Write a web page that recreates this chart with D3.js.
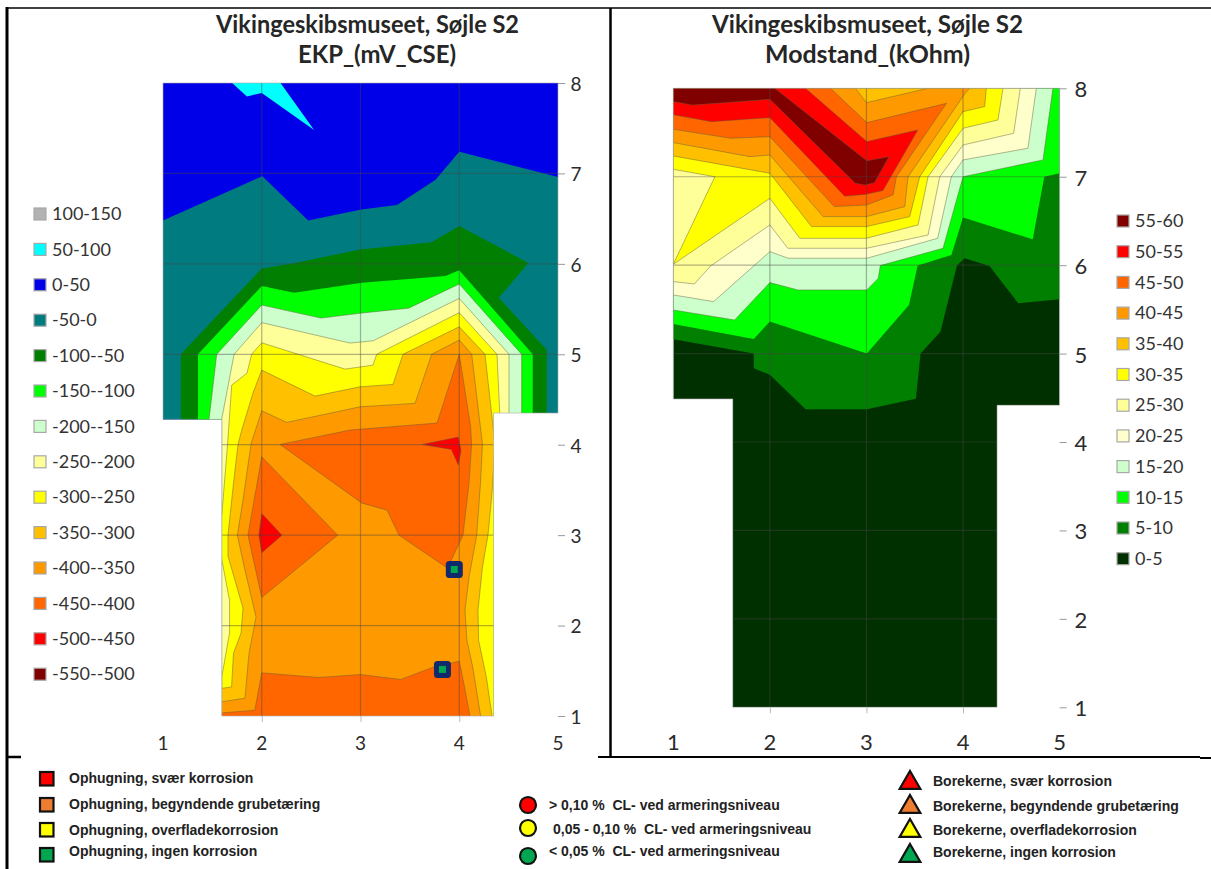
<!DOCTYPE html>
<html><head><meta charset="utf-8">
<script src="https://cdn.jsdelivr.net/npm/d3@7"></script>
<style>html,body{margin:0;background:#fff}svg{display:block}text{white-space:pre}</style></head>
<body><svg id="c" width="1211" height="869"></svg>
<script>
const titleTop="Vikingeskibsmuseet, Søjle S2";
const xTicks=[1,2,3,4,5], yTicks=[1,2,3,4,5,6,7,8];
const ekpShape=[[1,8],[5,8],[5,4.35],[4.347,4.35],[4.347,1],[1.597,1],[1.597,4.28],[1,4.28]];
const modShape=[[1,8],[5,8],[5,4.415],[4.353,4.415],[4.353,1],[1.615,1],[1.615,4.487],[1,4.487]];

// EKP (mV CSE): iso-regions, in chart units
const ekpRanges=["100-150","50-100","0-50","-50-0","-100--50","-150--100","-200--150","-250--200","-300--250","-350--300","-400--350","-450--400","-500--450","-550--500"];
const ekpColors=["#b2b2b2","#00ffff","#0000e8","#007c80","#007f00","#00ff00","#ccffcc","#ffff99","#ffff00","#ffc000","#ff9900","#ff6600","#ff0000","#800000"];
const ekpBlue=[[1,8],[5,8],[5,1],[1,1]];
const ekpCyan=[[1.70,8],[1.85,7.85],[2,7.89],[2.53,7.48],[2.19,8]];
const ekpTeal=[[1,6.48],[2.006,6.97],[2.47,6.48],[3.01,6.6],[3.37,6.65],[3.76,6.93],[4,7.24],[5,6.96],[5,1],[1,1]];
const ekpDark=[[1.18,1],[1.18,5],[2,5.95],[2.34,6.01],[2.995,6.16],[3.72,6.24],[4,6.42],[4.70,6.01],[4.40,5.625],[4.885,5.05],[4.885,1]];
const ekpGreen=[[1.354,1],[1.354,5],[2,5.754],[2.327,5.68],[3.015,5.79],[3.86,5.865],[4,5.93],[4.744,5],[4.744,1]];
const ekpPale=[[1.4,1],[1.466,4.28],[1.544,5],[2,5.544],[2.6,5.40],[3.015,5.456],[3.487,5.51],[4,5.777],[4.632,5],[4.632,1]];
const ekpCream=[[1.59,1],[1.594,4.28],[1.72,5],[2,5.35],[2.894,5.124],[3.13,5.15],[4,5.618],[4.504,5],[4.504,1]];
const ekpYellow=[[1.597,.9],[1.595,1.43],[1.674,1.92],[1.674,2.28],[1.597,2.72],[1.557,2.945],[1.597,3.243],[1.654,4.007],[1.696,4.66],[1.85,4.79],[1.898,5],[2,5.127],[2.843,4.836],[3.127,4.88],[3.164,5],[4,5.46],[4.382,5],[4.41,4.35],[4.41,.9]];
const ekpAmber=[[1.587,.9],[1.587,1.304],[1.694,1.322],[1.714,1.695],[1.79,1.916],[1.81,2.192],[1.658,2.768],[1.658,3],[1.714,3.575],[1.76,4.007],[1.797,4.16],[1.911,4.571],[2,4.825],[2.539,4.538],[2.995,4.64],[3.329,4.667],[3.43,5],[4,5.304],[4.261,5],[4.362,4.007],[4.332,3.465],[4.291,3],[4.235,2.646],[4.19,2.17],[4.196,1.838],[4.275,1.429],[4.332,1],[4.332,.9]];
const ekpOrange=[[1.587,.9],[1.587,1.156],[1.83,1.197],[1.871,1.695],[1.942,2.096],[1.83,2.613],[1.753,3],[1.81,3.387],[1.891,4.003],[1.898,4.032],[2,4.375],[2.253,4.247],[2.995,4.419],[3.552,4.457],[3.721,5],[4,5.157],[4.126,5],[4.235,4.003],[4.215,3.575],[4.177,3],[4.099,2.535],[4.058,2.17],[4.078,1.838],[4.137,1.54],[4.215,1.009],[4.215,.9]];
const ekpDeepA=[[2.185,4.003],[2.894,4.162],[3.775,4.239],[4,5],[4.116,4.195],[4.125,4.003],[4.099,3.575],[4.038,3],[3.881,2.635],[3.39,3],[3.268,3.277],[3.015,3.354]];
const ekpDeepB=[[2,3.866],[1.86,3],[2,2.31],[2.769,3]];
const ekpDeepC=[[1.587,.9],[1.587,1.034],[1.93,1.064],[2,1.477],[2.58,1.426],[3,1.459],[3.408,1.404],[3.743,1.543],[4,1.606],[4.046,1.363],[4.109,1],[4.109,.9]];
const ekpRedA=[[2,3.24],[1.97,3],[2,2.804],[2.205,3]];
const ekpRedB=[[3.623,4.003],[3.991,4.084],[4.018,3.94],[3.991,3.774],[3.92,3.948]];
const ekpSamples=[[3.95,2.62],[3.83,1.515]];

// Modstand (kOhm)
const modRanges=["55-60","50-55","45-50","40-45","35-40","30-35","25-30","20-25","15-20","10-15","5-10","0-5"];
const modColors=["#800000","#ff0000","#ff6600","#ff9900","#ffc000","#ffff00","#ffff99","#ffffcc","#ccffcc","#00ff00","#007f00","#003000"];
const mod5=[[1,8],[5,8],[5,5.614],[4.571,5.569],[4.274,5.99],[4.016,6.078],[3.937,5.995],[3.766,5.248],[3.56,5],[3.512,4.49],[3.004,4.37],[2.369,4.37],[2,4.76],[1.833,4.834],[1.833,5],[1,5.162]];
const mod10=[[1,8],[5,8],[5,7.04],[4.841,7],[4.722,6.292],[4,6.54],[3.879,6.115],[3.53,5.995],[3.44,5.55],[3.004,5],[2,5.362],[1.833,5.166],[1,5.335]];
const mod15=[[1,8],[4.931,8],[4.828,7.19],[4,7],[3.793,6.191],[3.143,5.995],[3.123,5.852],[3.004,5.72],[2.29,5.72],[2,5.803],[1.635,5.38],[1,5.493]];
const mod20=[[1,8],[4.759,8],[4.672,7.322],[4,7.19],[3.879,7],[3.738,6.304],[3.004,6.078],[2.19,6.078],[2,6.153],[1.417,5.588],[1,5.663]];
const mod25=[[1,8],[4.593,8],[4.524,7.491],[4,7.359],[3.759,7],[3.638,6.341],[3,6.191],[2.186,6.191],[2,6.455],[1.385,5.99],[1.218,5.787],[1,5.814]];
const mod30=[[1,8],[4.414,8],[4.362,7.642],[4,7.548],[3.638,7],[3.534,6.455],[3,6.304],[2.31,6.304],[2,6.756],[1,6.01]];
const mod25Island=[[1,7.084],[1.431,7],[1,6.01]];
const mod35=[[1,8],[4.241,8],[4.224,7.793],[4,7.736],[3.552,7],[3.448,6.549],[3,6.436],[2.431,6.436],[2,7.039],[1,7.235]];
const mod40=[[1,8],[2.885,8],[3,7.838],[3.638,8],[4.069,8],[4.017,7.936],[3.431,7],[3.397,6.662],[3,6.549],[2.552,6.549],[2,7.246],[1.793,7.227],[1,7.386]];
const mod45=[[1,8],[2.627,8],[3.004,7.612],[3.829,7.83],[3.31,7],[3.276,6.794],[3,6.68],[2.667,6.662],[2,7.453],[1.595,7.435],[1,7.536]];
const mod50=[[1,8],[2.369,8],[3.004,7.397],[3.532,7.529],[3.171,6.843],[2.984,6.80],[2.774,6.78],[2,7.668],[1.397,7.623],[1,7.70]];
const mod55=[[1,8],[2.05,8],[3.004,7.18],[3.234,7.227],[3.083,6.933],[2.984,6.907],[2.885,6.926],[2,7.876],[1.198,7.81],[1,7.85]];

const ophugLabels=["Ophugning, svær korrosion","Ophugning, begyndende grubetæring","Ophugning, overfladekorrosion","Ophugning, ingen korrosion"];
const clLabels=["> 0,10 %  CL- ved armeringsniveau","0,05 - 0,10 %  CL- ved armeringsniveau","< 0,05 %  CL- ved armeringsniveau"];
const boreLabels=["Borekerne, svær korrosion","Borekerne, begyndende grubetæring","Borekerne, overfladekorrosion","Borekerne, ingen korrosion"];
const ophugColors=["#ff0000","#ed7d31","#ffff00","#00a650"];
const clColors=["#ff0000","#ffff00","#00a650"];

const ekpLayers=[[ekpBlue,"#0000e8",0],[ekpCyan,"#00ffff",0],[ekpTeal,"#007c80",0],[ekpDark,"#007f00",0],[ekpGreen,"#00ff00",0],[ekpPale,"#ccffcc",1],[ekpCream,"#ffff99",1],[ekpYellow,"#ffff00",1],[ekpAmber,"#ffc000",1],[ekpOrange,"#ff9900",1],[ekpDeepA,"#ff6600",1],[ekpDeepB,"#ff6600",1],[ekpDeepC,"#ff6600",1],[ekpRedA,"#ff0000",1],[ekpRedB,"#ff0000",1]];
const modLayers=[[mod5,"#007f00",0],[mod10,"#00ff00",0],[mod15,"#ccffcc",1],[mod20,"#ffffcc",1],[mod25,"#ffff99",1],[mod30,"#ffff00",1],[mod25Island,"#ffff99",1],[mod35,"#ffc000",1],[mod40,"#ff9900",1],[mod45,"#ff6600",1],[mod50,"#ff0000",1],[mod55,"#800000",1]];

const svg=d3.select("#c");
const FONT="Lato, 'Open Sans', sans-serif";

function chart(o){
  const x=d3.scaleLinear().domain([1,5]).range(o.xr);
  const y=d3.scaleLinear().domain([1,8]).range(o.yr);
  const line=d3.line().x(d=>x(d[0])).y(d=>y(d[1])).curve(d3.curveLinearClosed);
  const g=svg.append("g");
  g.append("clipPath").attr("id",o.id).append("path").attr("d",line(o.shape));
  const body=g.append("g").attr("clip-path",`url(#${o.id})`);
  body.append("path").attr("d",line(o.shape)).attr("fill",o.base);
  body.selectAll("path.band").data(o.layers).join("path").attr("class","band")
    .attr("d",d=>line(d[0])).attr("fill",d=>d[1])
    .attr("stroke",d=>d[2]?"rgba(95,90,60,.5)":"none").attr("stroke-width",.9);
  body.selectAll("line.gx").data([2,3,4]).join("line").attr("class","gx")
    .attr("x1",d=>x(d)).attr("x2",d=>x(d)).attr("y1",y(8)).attr("y2",y(1))
    .attr("stroke","rgba(70,70,70,.42)").attr("stroke-width",1.2);
  body.selectAll("line.gy").data(d3.range(2,8)).join("line").attr("class","gy")
    .attr("x1",x(1)).attr("x2",x(5)).attr("y1",d=>y(d)).attr("y2",d=>y(d))
    .attr("stroke","rgba(70,70,70,.42)").attr("stroke-width",1.2);
  g.append("path").attr("d",line(o.shape)).attr("fill","none").attr("stroke","rgba(170,170,170,.6)").attr("stroke-width",1);
  const ax=g.append("g").attr("transform",`translate(0,${y(1)})`)
    .call(d3.axisBottom(x).tickValues(xTicks.slice(1,4)).tickSize(6).tickFormat(""));
  ax.select(".domain").remove(); ax.selectAll("line").attr("stroke","#bbb");
  const ay=g.append("g").attr("transform",`translate(${x(5)},0)`)
    .call(d3.axisRight(y).tickValues(yTicks).tickSize(7).tickFormat(""));
  ay.select(".domain").remove(); ay.selectAll("line").attr("stroke","#999");
  g.selectAll("text.xl").data(xTicks).join("text").attr("class","xl")
    .attr("x",d=>x(d)).attr("y",o.xLabelY).attr("text-anchor","middle")
    .attr("font-family",FONT).attr("font-size",o.tickSize).attr("fill","#2b2b2b").text(d=>d);
  g.selectAll("text.yl").data(yTicks).join("text").attr("class","yl")
    .attr("x",o.yLabelX).attr("y",d=>y(d)+o.tickSize*.36+1).attr("text-anchor","middle")
    .attr("font-family",FONT).attr("font-size",o.tickSize).attr("fill","#2b2b2b").text(d=>d);
  [titleTop,o.title].forEach((t,i)=>g.append("text").attr("x",o.titleX[i]).attr("y",[33,63][i])
    .attr("text-anchor","middle").attr("font-family",FONT).attr("font-weight",700)
    .attr("font-size",24).attr("textLength",o.titleW[i]).attr("lengthAdjust","spacingAndGlyphs")
    .attr("fill","#262626").text(t));
  const lg=g.selectAll("g.lg").data(o.ranges).join("g").attr("class","lg")
    .attr("transform",(d,i)=>`translate(${o.legX},${o.legY+i*o.legStep})`);
  lg.append("rect").attr("x",0).attr("y",-6).attr("width",12).attr("height",12)
    .attr("fill",(d,i)=>o.colors[i]).attr("stroke","#a8a8a8").attr("stroke-width",1.2);
  lg.append("text").attr("x",18).attr("y",6.2).attr("font-family",FONT).attr("font-size",o.legSize)
    .attr("fill","#333").text(d=>d);
  return {x,y,g};
}

const left=chart({id:"ekp",xr:[163,558],yr:[716,83],shape:ekpShape,layers:ekpLayers,base:"#0000e8",title:"EKP_(mV_CSE)",titleX:[367.5,377],titleW:[303,158],
  xLabelY:749.5,yLabelX:576,tickSize:19,ranges:ekpRanges,colors:ekpColors,legX:34,legY:214,legStep:35.4,legSize:18});
const right=chart({id:"mod",xr:[673.3,1059.6],yr:[707.3,88.3],shape:modShape,layers:modLayers,base:"#003000",title:"Modstand_(kOhm)",titleX:[867.5,867.5],titleW:[311,205],
  xLabelY:750,yLabelX:1081,tickSize:22,ranges:modRanges,colors:modColors,legX:1117,legY:221,legStep:30.7,legSize:18});

const sm=left.g.selectAll("g.sm").data(ekpSamples).join("g").attr("class","sm")
  .attr("transform",d=>`translate(${left.x(d[0])},${left.y(d[1])})`);
sm.append("rect").attr("x",-8.5).attr("y",-8.5).attr("width",17).attr("height",17).attr("rx",3.5).attr("fill","#12296b");
sm.append("rect").attr("x",-3.5).attr("y",-3.5).attr("width",7).attr("height",7).attr("fill","#00a650");

// frames
const frames=[[7,7,7,869,3],[7,8,1211,8,1.5],[610.5,8,610.5,757,2.5],[598,757,1200,757,2],[7,757,21,757,2.5],[1200,758,1211,758,2]];
svg.selectAll("line.fr").data(frames).join("line").attr("class","fr")
  .attr("x1",d=>d[0]).attr("y1",d=>d[1]).attr("x2",d=>d[2]).attr("y2",d=>d[3]).attr("stroke-width",d=>d[4]).attr("stroke","#000");

// bottom legends
const BF="'Liberation Sans', Arial, sans-serif";
function ltext(t,x,y){svg.append("text").attr("x",x).attr("y",y+4.8).attr("font-family",BF).attr("font-weight",700)
  .attr("font-size",14).attr("fill","#222").text(t);}
const opY=[779,805,830,855], opTY=[778,804,830,851];
ophugLabels.forEach((t,i)=>{
  svg.append("rect").attr("x",40).attr("y",opY[i]-7).attr("width",13.5).attr("height",13.5)
    .attr("fill",ophugColors[i]).attr("stroke","#111").attr("stroke-width",2.2);
  ltext(t,69,opTY[i]);
});
const clY=[805,828,856], clTY=[805,829,851], clTX=[549,553,549];
clLabels.forEach((t,i)=>{
  svg.append("circle").attr("cx",528).attr("cy",clY[i]).attr("r",8).attr("fill",clColors[i]).attr("stroke","#111").attr("stroke-width",2.2);
  ltext(t,clTX[i],clTY[i]);
});
const brY=[783,807,831,856], brTY=[781,806,830,852];
const tri=d3.symbol().type(d3.symbolTriangle).size(185);
boreLabels.forEach((t,i)=>{
  svg.append("path").attr("d",tri()).attr("transform",`translate(910,${brY[i]})`)
    .attr("fill",ophugColors[i]).attr("stroke","#111").attr("stroke-width",2.2);
  ltext(t,933,brTY[i]);
});
</script></body></html>
